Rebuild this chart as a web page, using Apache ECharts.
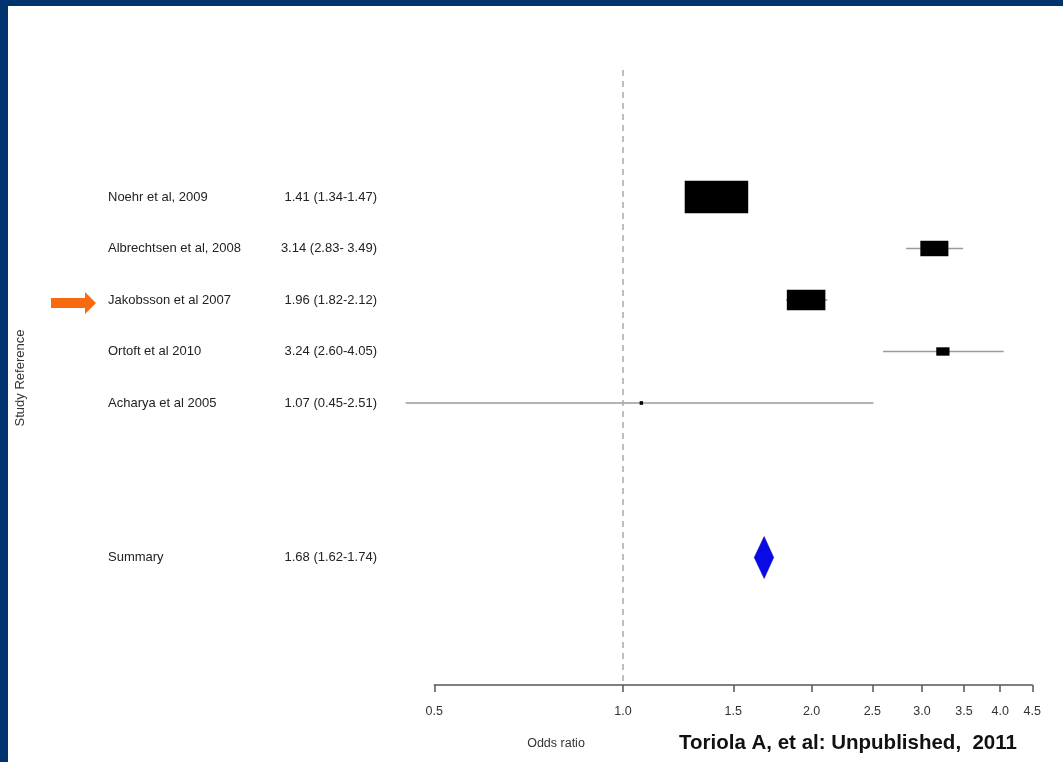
<!DOCTYPE html>
<html>
<head>
<meta charset="utf-8">
<script src="https://cdn.jsdelivr.net/npm/echarts@6/dist/echarts.min.js"></script>
<style>
html,body{margin:0;padding:0;background:#fff;}
#c{width:1063px;height:762px;}
</style>
</head>
<body>
<div id="c"></div>
<script>
// ---- data ----
var studies = ['Noehr et al, 2009', 'Albrechtsen et al, 2008', 'Jakobsson et al 2007', 'Ortoft et al 2010', 'Acharya et al 2005'];
var oddsRatio = [1.41, 3.14, 1.96, 3.24, 1.07];
var ciLower = [1.34, 2.83, 1.82, 2.60, 0.45];
var ciUpper = [1.47, 3.49, 2.12, 4.05, 2.51];
var ciText = ['1.41 (1.34-1.47)', '3.14 (2.83- 3.49)', '1.96 (1.82-2.12)', '3.24 (2.60-4.05)', '1.07 (0.45-2.51)'];
var summaryLabel = 'Summary';
var summaryOR = 1.68, summaryLower = 1.62, summaryUpper = 1.74;
var summaryText = '1.68 (1.62-1.74)';
var xTicks = [0.5, 1.0, 1.5, 2.0, 2.5, 3.0, 3.5, 4.0, 4.5];

// ---- build ----
var ln = Math.log;
var summaryRow = studies.length + 2;
var studyData = studies.map(function (s, i) {
  var se = (ln(ciUpper[i]) - ln(ciLower[i])) / 3.92;
  return [ln(oddsRatio[i]), i, ln(ciLower[i]), ln(ciUpper[i]), 1 / se];
});
var textData = studies.map(function (s, i) { return [0, i, s, ciText[i]]; });
textData.push([0, summaryRow, summaryLabel, summaryText]);

var FONT = '"Liberation Sans", Arial, sans-serif';
var chart = echarts.init(document.getElementById('c'));
chart.setOption({
  backgroundColor: '#fff',
  animation: false,
  grid: { left: 434.3, right: 30.7, top: 70, bottom: 77 },
  xAxis: {
    type: 'value',
    min: ln(xTicks[0]),
    max: ln(xTicks[xTicks.length - 1]),
    splitLine: { show: false },
    axisLine: { show: true, onZero: false, lineStyle: { color: '#555', width: 1.5 } },
    axisTick: { show: true, length: 7, customValues: xTicks.map(ln), lineStyle: { color: '#555', width: 1.5 } },
    axisLabel: {
      customValues: xTicks.map(ln),
      formatter: function (v) { return Math.exp(v).toFixed(1); },
      color: '#333', fontSize: 12.5, fontFamily: FONT, margin: 20
    }
  },
  yAxis: {
    type: 'value', inverse: true, min: -2.466, max: 9.476, show: false
  },
  graphic: [
    { type: 'rect', shape: { x: 0, y: 0, width: 1063, height: 6 }, style: { fill: '#00346f' }, z: 100 },
    { type: 'rect', shape: { x: 0, y: 0, width: 8, height: 762 }, style: { fill: '#00346f' }, z: 100 },
    { type: 'text', x: 20, y: 378, rotation: Math.PI / 2,
      style: { text: 'Study Reference', fill: '#333', font: '13px ' + FONT, align: 'center', verticalAlign: 'middle' } },
    { type: 'text', x: 556, y: 744,
      style: { text: 'Odds ratio', fill: '#333', font: '12.5px ' + FONT, align: 'center', verticalAlign: 'middle' } },
    { type: 'text', x: 679, y: 743,
      style: { text: 'Toriola A, et al: Unpublished,  2011', fill: '#111', font: 'bold 20.5px ' + FONT, align: 'left', verticalAlign: 'middle' } },
    { type: 'polygon', shape: { points: [[51, 298], [85, 298], [85, 292], [96, 303], [85, 314], [85, 308], [51, 308]] },
      style: { fill: '#f76a10' } }
  ],
  series: [
    {
      type: 'custom',
      name: 'studies',
      data: studyData,
      clip: false,
      renderItem: function (params, api) {
        var c = api.coord([api.value(0), api.value(1)]);
        var lo = api.coord([api.value(2), api.value(1)]);
        var hi = api.coord([api.value(3), api.value(1)]);
        var w = Math.max(3, 1.5 * api.value(4));
        var h = Math.max(3, 0.48 * w + 2);
        return {
          type: 'group',
          children: [
            { type: 'line', shape: { x1: lo[0], y1: c[1], x2: hi[0], y2: c[1] }, style: { stroke: '#9a9a9a', lineWidth: 1.5 } },
            { type: 'rect', shape: { x: c[0] - w / 2, y: c[1] - h / 2, width: w, height: h }, style: { fill: '#000' } }
          ]
        };
      },
      markLine: {
        silent: true, symbol: 'none', label: { show: false },
        lineStyle: { color: '#aaa', type: [6, 5], width: 1.5 },
        data: [{ xAxis: 0 }]
      },
      z: 3
    },
    {
      type: 'custom',
      name: 'summary',
      data: [[ln(summaryOR), summaryRow, ln(summaryLower), ln(summaryUpper)]],
      clip: false,
      renderItem: function (params, api) {
        var c = api.coord([api.value(0), api.value(1)]);
        var lo = api.coord([api.value(2), api.value(1)]);
        var hi = api.coord([api.value(3), api.value(1)]);
        return {
          type: 'polygon',
          shape: { points: [[lo[0], c[1]], [c[0], c[1] - 21], [hi[0], c[1]], [c[0], c[1] + 21]] },
          style: { fill: '#0a0ae6', stroke: '#0000b0', lineWidth: 0.5 }
        };
      },
      z: 3
    },
    {
      type: 'custom',
      name: 'labels',
      data: textData,
      clip: false,
      renderItem: function (params, api) {
        var c = api.coord([0, api.value(1)]);
        var item = textData[params.dataIndex];
        return {
          type: 'group',
          children: [
            { type: 'text', x: 108, y: c[1], style: { text: item[2], fill: '#222', font: '13px ' + FONT, align: 'left', verticalAlign: 'middle' } },
            { type: 'text', x: 377, y: c[1], style: { text: item[3], fill: '#222', font: '13px ' + FONT, align: 'right', verticalAlign: 'middle' } }
          ]
        };
      }
    }
  ]
});
</script>
</body>
</html>
